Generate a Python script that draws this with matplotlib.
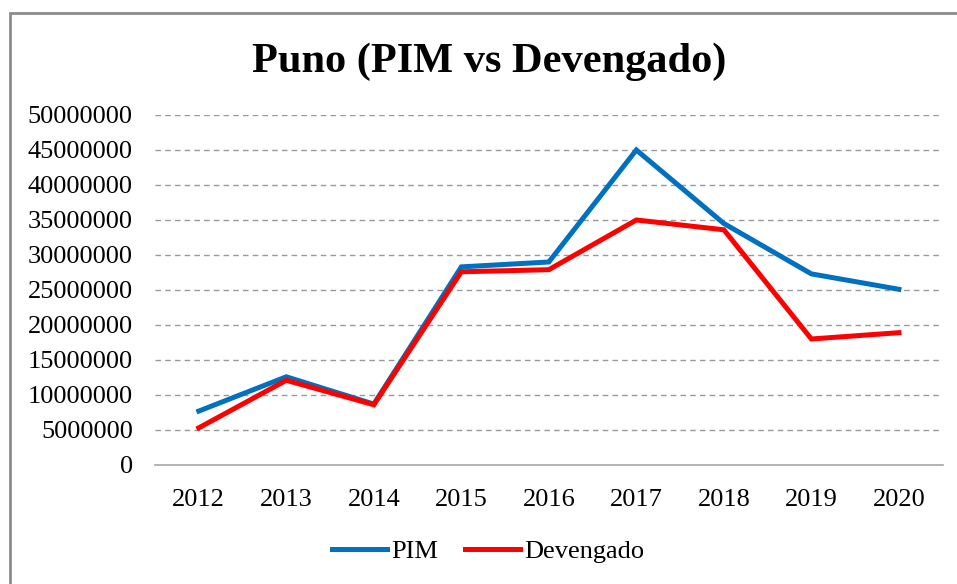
import matplotlib.pyplot as plt
from matplotlib.lines import Line2D

years = ["2012", "2013", "2014", "2015", "2016", "2017", "2018", "2019", "2020"]
pim = [7700000, 12600000, 8700000, 28300000, 29000000, 45000000, 34500000, 27300000, 25100000]
devengado = [5300000, 12100000, 8600000, 27600000, 27900000, 35000000, 33600000, 18000000, 18900000]
y_ticks = list(range(0, 50000001, 5000000))

plt.rcParams["font.family"] = ["Liberation Serif", "DejaVu Serif"]

fig = plt.figure(figsize=(9.57, 5.84), dpi=100)
ax = fig.add_axes([0.162, 0.2038, 0.823, 0.5993])

x = list(range(len(years)))
ax.plot(x, pim, color="#0070C0", linewidth=3.6, label="PIM", solid_joinstyle="miter")
ax.plot(x, devengado, color="#FF0000", linewidth=3.6, label="Devengado", solid_joinstyle="miter")

ax.set_xlim(-0.5, len(years) - 0.5)
ax.set_ylim(0, 50000000)
ax.set_xticks(x)
ax.set_xticklabels(years)
ax.set_yticks(y_ticks)
ax.set_yticklabels([str(v) for v in y_ticks])
ax.tick_params(axis="both", length=0, labelsize=19)
ax.tick_params(axis="y", pad=16)
ax.tick_params(axis="x", pad=17)

# dashed horizontal grid like the Excel chart
for v in y_ticks[1:]:
    ax.axhline(v, color="#999999", linewidth=1.0, linestyle=(0, (4, 3)), zorder=0)

for side in ["top", "right", "left"]:
    ax.spines[side].set_visible(False)
ax.spines["bottom"].set_color("#a6a6a6")
ax.spines["bottom"].set_linewidth(1.2)

fig.text(0.511, 0.895, "Puno (PIM vs Devengado)", ha="center", va="center",
         fontsize=30.5, fontweight="bold")

fig.legend(loc="center", bbox_to_anchor=(0.51, 0.0565), ncol=2, frameon=False,
           fontsize=19, handlelength=2.1, handletextpad=0.15, columnspacing=1.0)

# chart frame: only left and top edges are visible in the crop
bx, by = 9.5 / 957, 1 - 12.5 / 584
fig.add_artist(Line2D([bx, bx, 1.0], [0.0, by, by], transform=fig.transFigure,
                      color="#8c8c8c", linewidth=2, solid_joinstyle="miter"))

plt.savefig("out.png", dpi=100)
plt.close()
